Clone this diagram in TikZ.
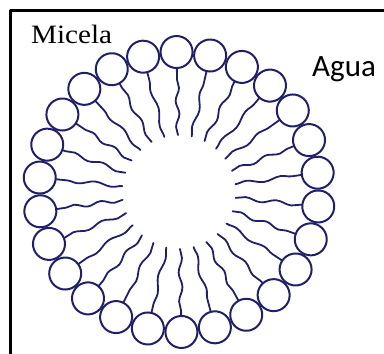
\documentclass[tikz,border=0pt]{standalone}
\usepackage{fontspec}
\setmainfont{Liberation Serif}
\newfontfamily\titlefont[FakeStretch=1.1]{Liberation Serif}
\newfontfamily\waterfont{Carlito}
\usetikzlibrary{decorations.pathmorphing}
\definecolor{lipid}{RGB}{32,32,105}
\tikzset{
  head/.style={draw=lipid,line width=2pt},
  tail/.style={draw=lipid,line width=1.8pt,decorate,
    decoration={snake,amplitude=1.8pt,segment length=#1}},
  tail/.default=30pt,
}
\begin{document}
\begin{tikzpicture}[x=1pt,y=1pt,line cap=round,line join=round]
  \useasboundingbox (0,0) rectangle (384,354);
  \fill[white] (0,0) rectangle (384,354);
  \begin{scope}
    \clip (0,0) rectangle (384,354);
    \draw[line width=3pt] (10.5,-20) |- (420,343.5);
  \end{scope}
  \coordinate (O) at (179,162);
  \foreach \i in {0,...,25}{
    \pgfmathsetmacro{\a}{91-13.846*\i}
    \pgfmathsetmacro{\seg}{26+mod(7*\i,11)}
    \begin{scope}[shift={(O)},rotate=\a]
      \draw[tail=\seg pt] (57,0) -- (124,0);
      \draw[head] (140,0) circle (16);
    \end{scope}
  }
  \node[anchor=base west,inner sep=0pt,font=\titlefont\fontsize{26.5}{30}\selectfont] (micela) at (31,310) {Micela};
  \node[anchor=base west,inner sep=0pt,font=\waterfont\fontsize{31}{36}\selectfont] (agua) at (312,277) {Agua};
\end{tikzpicture}
\end{document}
